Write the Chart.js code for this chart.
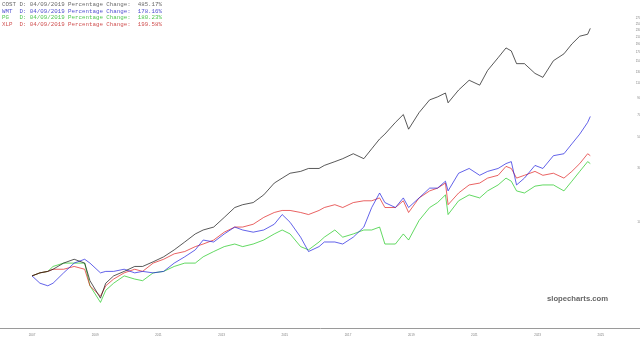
<!DOCTYPE html>
<html>
<head>
<meta charset="utf-8">
<script src="https://cdn.jsdelivr.net/npm/chart.js@4.4.0/dist/chart.umd.min.js"></script>
<style>
    body { margin: 0; background: #ffffff; }
    #wrap { position: relative; width: 640px; height: 342px; }
</style>
</head>
<body>
<div id="wrap"><canvas id="canvas_retorno"></canvas></div>
<script>
const datas = [
    '2007-01', '2007-04', '2007-07', '2007-09', '2008-01', '2008-05', '2008-09', '2008-11', '2009-03', '2009-05',
    '2009-08', '2009-12', '2010-04', '2010-07', '2010-11', '2011-03', '2011-07', '2011-11', '2012-03', '2012-06',
    '2012-10', '2013-02', '2013-06', '2013-09', '2014-01', '2014-05', '2014-09', '2014-12', '2015-03', '2015-07',
    '2015-10', '2016-02', '2016-04', '2016-08', '2016-11', '2017-03', '2017-07', '2017-10', '2018-01', '2018-03',
    '2018-07', '2018-10', '2018-12', '2019-04', '2019-08', '2019-11', '2020-02', '2020-03', '2020-07', '2020-11',
    '2021-03', '2021-06', '2021-10', '2022-01', '2022-03', '2022-05', '2022-08', '2022-12', '2023-03', '2023-07',
    '2023-11', '2024-02', '2024-05', '2024-08', '2024-09'
];

// variacao percentual acumulada
const cost = [
    0, 4, 6, 9, 18, 24, 18, -6, -25, -9,
    0, 6, 13, 13, 20, 28, 40, 55, 72, 81,
    88, 113, 142, 151, 158, 185, 232, 254, 277, 286,
    301, 301, 317, 338, 355, 385, 355, 417, 487, 525,
    627, 705, 566, 726, 873, 911, 963, 837, 1005, 1154,
    1077, 1323, 1578, 1804, 1732, 1454, 1454, 1270, 1202, 1514,
    1664, 1903, 2116, 2172, 2352
];
const wmt = [
    0, -9, -12, -9, 4, 18, 24, 18, 4, 6,
    6, 9, 4, 6, 4, 6, 18, 28, 40, 59,
    55, 72, 88, 81, 76, 81, 95, 121, 100, 65,
    37, 46, 55, 55, 51, 65, 88, 142, 192, 158,
    142, 174, 142, 174, 211, 211, 240, 200, 277, 301,
    267, 286, 301, 327, 338, 224, 254, 317, 301, 373,
    385, 451, 525, 627, 685
];
const pg = [
    0, 4, 6, 13, 18, 18, 18, -12, -29, -17,
    -9, 0, -4, -6, 4, 6, 13, 18, 18, 28,
    37, 46, 51, 46, 51, 59, 72, 81, 72, 46,
    40, 55, 65, 81, 65, 72, 81, 81, 88, 51,
    51, 72, 59, 105, 142, 158, 185, 121, 164, 185,
    174, 200, 224, 254, 240, 200, 192, 219, 224, 224,
    200, 240, 286, 338, 327
];
const xlp = [
    0, 4, 6, 9, 9, 13, 9, -12, -23, -12,
    -4, 4, 9, 6, 18, 24, 33, 37, 46, 51,
    59, 76, 88, 88, 95, 113, 127, 133, 133, 127,
    121, 133, 142, 151, 142, 158, 164, 164, 174, 142,
    142, 164, 127, 174, 200, 211, 232, 151, 192, 224,
    232, 254, 267, 312, 301, 254, 267, 286, 267, 277,
    254, 286, 327, 385, 373
];

const anosEixo = [2007, 2009, 2011, 2013, 2015, 2017, 2019, 2021, 2023, 2025];
const percEixo = [100, 300, 500, 700, 900, 1100, 1300, 1500, 1700, 1900, 2100, 2300, 2500, 2700];

const legenda = [
    { texto: 'COST D: 04/09/2019 Percentage Change:  485.17%', cor: '#6a6a6a' },
    { texto: 'WMT  D: 04/09/2019 Percentage Change:  178.16%', cor: '#5050d0' },
    { texto: 'PG   D: 04/09/2019 Percentage Change:  180.23%', cor: '#50c850' },
    { texto: 'XLP  D: 04/09/2019 Percentage Change:  199.58%', cor: '#d05050' },
];

function anoDecimal(d){
    let partes = d.split('-');
    return Number(partes[0]) + (Number(partes[1]) - 1) / 12;
}

function serie(valores){
    // escala log precisa de valores positivos: 100 = ponto de partida
    return valores.map((v, i) => ({ x: anoDecimal(datas[i]), y: 100 + v }));
}

const pluginTextos = {
    id: 'textos',
    afterDraw(chart){
        let ctx = chart.ctx;
        ctx.save();
        ctx.font = '5.8px "Liberation Mono", monospace';
        ctx.textBaseline = 'alphabetic';
        ctx.textAlign = 'left';
        for(let i = 0; i < legenda.length; i++){
            ctx.fillStyle = legenda[i].cor;
            ctx.fillText(legenda[i].texto, 2, 6 + i * 6.67);
        }
        ctx.font = 'bold 7.7px "Liberation Sans", Arial, sans-serif';
        ctx.fillStyle = '#666666';
        ctx.fillText('slopecharts.com', 547, 301);
        ctx.restore();
    }
};

function linha(label, valores, cor){
    return {
        label: label,
        data: serie(valores),
        borderColor: cor,
        backgroundColor: cor,
        borderWidth: 0.7,
        pointRadius: 0,
        tension: 0,
    };
}

new Chart(document.getElementById('canvas_retorno'), {
    type: 'line',
    data: {
        datasets: [
            linha('COST', cost, '#111111'),
            linha('WMT', wmt, '#2020e0'),
            linha('XLP', xlp, '#e02020'),
            linha('PG', pg, '#20c820'),
        ],
    },
    options: {
        responsive: true,
        maintainAspectRatio: false,
        animation: false,
        layout: { padding: 0 },
        plugins: {
            legend: { display: false },
            tooltip: { enabled: false },
        },
        scales: {
            x: {
                type: 'linear',
                min: 2005.987,
                max: 2026.24,
                grid: { display: false, drawTicks: false },
                border: { display: true, color: '#9a9a9a', width: 1 },
                afterBuildTicks: (scale) => {
                    scale.ticks = anosEixo.map(a => ({ value: a }));
                },
                afterFit: (scale) => { scale.height = 14; },
                ticks: {
                    autoSkip: false,
                    maxRotation: 0,
                    padding: 5,
                    color: '#808080',
                    font: { size: 3, family: 'Liberation Sans' },
                    callback: (v) => String(v),
                },
            },
            y: {
                type: 'logarithmic',
                position: 'right',
                min: 51,
                max: 3240,
                grid: { display: false, drawTicks: false },
                border: { display: false },
                afterBuildTicks: (scale) => {
                    scale.ticks = percEixo.map(p => ({ value: p + 100 }));
                },
                afterFit: (scale) => { scale.width = 0; },
                ticks: {
                    mirror: true,
                    padding: 5,
                    autoSkip: false,
                    color: '#808080',
                    font: { size: 3, family: 'Liberation Sans' },
                    callback: (v) => (v - 100) + '%',
                },
            },
        },
    },
    plugins: [pluginTextos],
});
</script>
</body>
</html>
